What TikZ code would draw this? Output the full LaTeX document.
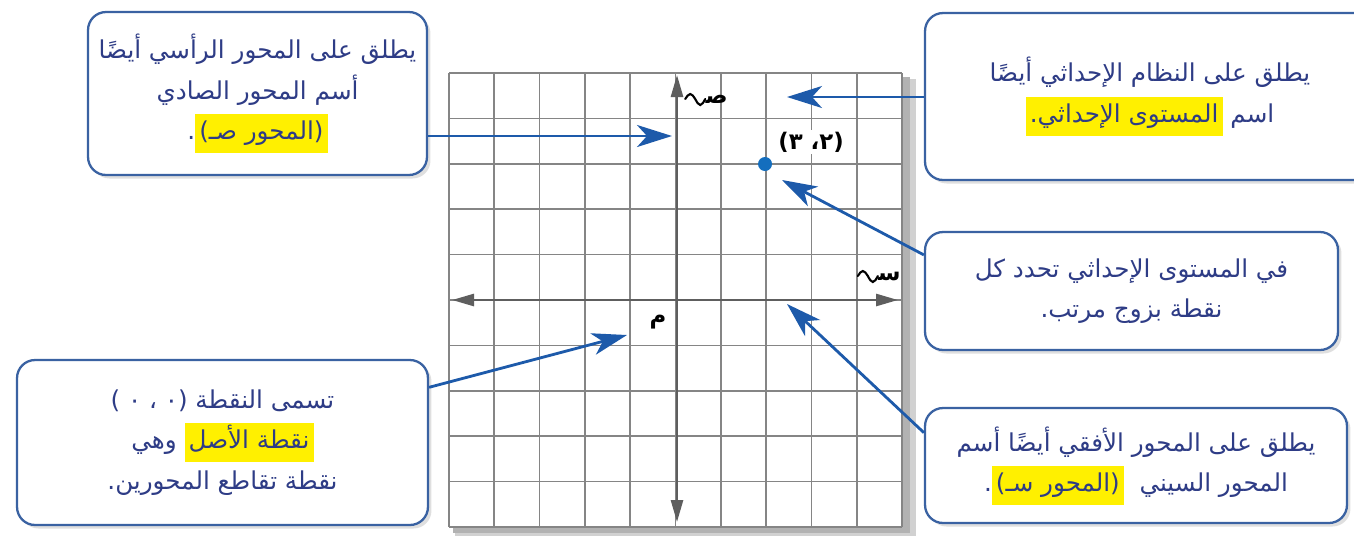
\documentclass[tikz,border=0pt]{standalone}
\usepackage{fontspec}
\newfontfamily\arabicfont[Script=Arabic]{DejaVu Sans}
\TeXXeTstate=1
\usetikzlibrary{arrows.meta,calc,shadows}

\definecolor{notetext}{HTML}{2E3C86}
\definecolor{noteblue}{HTML}{3A62A2}
\definecolor{arrowblue}{HTML}{1D5AAA}
\definecolor{dotblue}{HTML}{146EBE}
\definecolor{hlyellow}{HTML}{FFF000}
\definecolor{gridgray}{HTML}{858585}
\definecolor{axisgray}{HTML}{5E5E5E}

\newcommand{\artext}[1]{\beginR#1\endR}
\newcommand{\marked}[1]{{\setlength{\fboxsep}{0pt}\colorbox{hlyellow}{\rule[-7.5pt]{0pt}{22pt}\,#1\,}}}

\begin{document}
\begin{tikzpicture}[x=0.02cm, y=-0.02cm,
    note/.style={draw=noteblue, line width=1.3pt, rounded corners=0.36cm, fill=white,
      drop shadow={shadow xshift=2pt, shadow yshift=-2pt, fill=black!25},
      align=center, text=notetext, inner sep=0pt,
      font=\arabicfont\fontsize{14}{23}\selectfont},
    callout/.style={-{Stealth[length=7mm,width=4.4mm,inset=2mm]}, line width=1.6pt, draw=arrowblue},
    axis/.style={{Triangle[length=4.4mm,width=2.4mm]}-{Triangle[length=4.4mm,width=2.4mm]},
      line width=1.5pt, draw=axisgray},
    gridline/.style={draw=gridgray, line width=1pt},
    swash/.style={line width=1.2pt, line cap=round},
    axislabel/.style={font=\arabicfont\bfseries\fontsize{13}{13}\selectfont, inner sep=0pt}]
    \useasboundingbox (0,0) rectangle (1354,535);
    \clip (0,0) rectangle (1354,535);

    % Coordinate grid with its shadow.
    \fill[black!18] (455,79) rectangle (916,538);
    \fill[black!30] (453,77) rectangle (910,533);
    \fill[white] (449,73) rectangle (902,527);
    \foreach \i in {0,...,10} {
        \draw[gridline] (449+\i*45.3,73) -- (449+\i*45.3,527);
        \draw[gridline] (449,73+\i*45.4) -- (902,73+\i*45.4);
    }

    % Axes and their labels.
    \coordinate (O) at (677,300);
    \draw[axis] (452,300) -- (898,300);
    \draw[axis] (677,522) -- (677,75);
    \node[axislabel, anchor=east] (ylabel) at (728,99) {\artext{ص^^^^200d}};
    \draw[swash] (ylabel.west) sin ++(-5,6) cos ++(-5,-6) sin ++(-5,-5) cos ++(-5,5);
    \node[axislabel, anchor=east] (xlabel) at (901,276) {\artext{س^^^^200d}};
    \draw[swash] (xlabel.west) sin ++(-5,6) cos ++(-5,-6) sin ++(-5,-5) cos ++(-5,5);
    \node[axislabel] (olabel) at (658,322) {\artext{م}};

    % The point (2, 3).
    \node[circle, fill=dotblue, inner sep=0pt, minimum size=0.28cm] (pt) at (765,164) {};
    \node[axislabel, fill=white, inner sep=1pt] (ptlabel) at (811,142)
        {\mbox{)}\mbox{٣}\ \mbox{،}\mbox{٢}\mbox{(}};

    % Notes.
    \node[note, minimum width=6.78cm, minimum height=3.26cm] (yaxisnote) at (257.5,93.5)
        {\artext{يطلق على المحور الرأسي أيضًا}\\
         \artext{أسم المحور الصادي}\\
         .\marked{)\artext{المحور صـ}(}};
    \node[note, minimum width=9cm, minimum height=3.34cm] (planenote) at (1150,96.5)
        {\artext{يطلق على النظام الإحداثي أيضًا}\\
         \marked{.\artext{المستوى الإحداثي}}\ \artext{اسم}};
    \node[note, minimum width=8.26cm, minimum height=2.36cm] (pairnote) at (1131.5,291)
        {\artext{في المستوى الإحداثي تحدد كل}\\
         \artext{نقطة بزوج مرتب.}};
    \node[note, minimum width=8.22cm, minimum height=3.3cm] (originnote) at (222.5,442.5)
        {\artext{تسمى النقطة \mbox{(\mbox{٠}\ \mbox{،}\ \mbox{٠}\ )}}\\
         \artext{وهي}\ \marked{\artext{نقطة الأصل}}\\
         \artext{نقطة تقاطع المحورين.}};
    \node[note, minimum width=8.44cm, minimum height=2.3cm] (xaxisnote) at (1136,465.5)
        {\artext{يطلق على المحور الأفقي أيضًا أسم}\\
         .\marked{)\artext{المحور سـ}(}\ \ \artext{المحور السيني}};

    % Callout arrows.
    \coordinate (ytip) at (672,136);
    \coordinate (planetip) at (787,97);
    \coordinate (pairtip) at (782,180);
    \coordinate (origintip) at (627,335);
    \coordinate (xtip) at (787,304);
    \draw[callout] (yaxisnote.east |- ytip) -- (ytip);
    \draw[callout] (planenote.west |- planetip) -- (planetip);
    \draw[callout] ($(pairnote.north west)!0.2!(pairnote.south west)$) -- (pairtip);
    \draw[callout] ($(originnote.north east)!0.17!(originnote.south east)$) -- (origintip);
    \draw[callout] ($(xaxisnote.north west)!0.22!(xaxisnote.south west)$) -- (xtip);
\end{tikzpicture}
\end{document}
